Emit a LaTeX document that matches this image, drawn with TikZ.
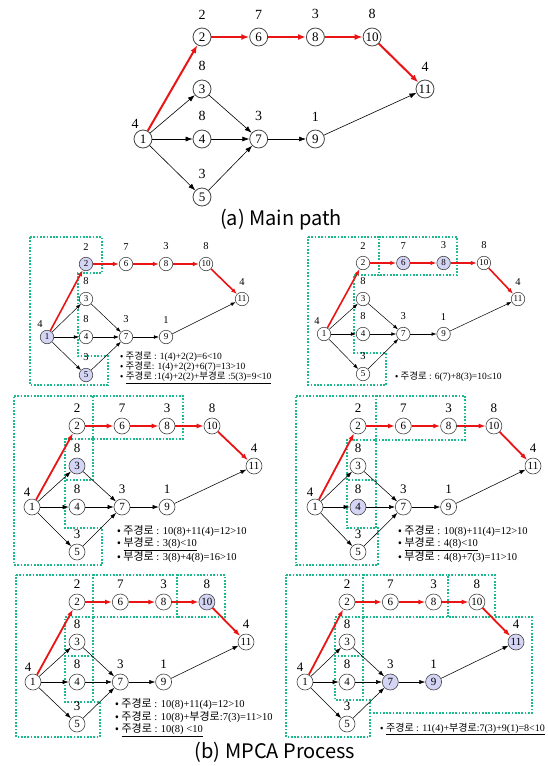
\documentclass[tikz,border=0pt]{standalone}
\usepackage{fontspec}
\setmainfont{Liberation Serif}
\newfontfamily\kr{Noto Sans CJK KR}
\usetikzlibrary{arrows.meta}
\definecolor{redp}{RGB}{235,20,20}
\definecolor{lav}{RGB}{212,212,245}
\definecolor{grn}{RGB}{30,185,140}
\definecolor{ndc}{RGB}{70,70,70}
\newcommand\kra{\kr\fontsize{9.5}{10}\selectfont}
\newcommand\krb{\kr\fontsize{11}{11}\selectfont}
\newcommand\krc{\kr\fontsize{10}{10}\selectfont}
\tikzset{
 s1/.style={}, s2/.style={}, s3/.style={}, s4/.style={}, s5/.style={}, s6/.style={},
 s7/.style={}, s8/.style={}, s9/.style={}, s10/.style={}, s11/.style={},
 hl/.style={fill=lav},
 grp/.style={draw=grn, line width=1.7pt, dash pattern=on 1.7pt off 1.6pt},
 tx/.style={anchor=west, inner sep=0pt},
 szL/.style={
   nd/.style={circle, draw=ndc, line width=0.8pt, fill=white, inner sep=0pt, minimum size=18pt,
     font=\fontsize{13}{13}\selectfont},
   wt/.style={inner sep=0pt, yshift=8.4pt, font=\fontsize{14}{14}\selectfont},
   wa/.style={inner sep=0pt, xshift=-8pt, yshift=1.4pt, font=\fontsize{14}{14}\selectfont},
   ar/.style={-{Latex[length=7pt,width=5pt]}, line width=0.6pt},
   rd/.style={-{Latex[length=8pt,width=6pt]}, line width=2pt, draw=redp}},
 szS/.style={
   nd/.style={circle, draw=ndc, line width=0.6pt, fill=white, inner sep=0pt, minimum size=13.5pt,
     font=\fontsize{9}{9}\selectfont},
   wt/.style={inner sep=0pt, yshift=6.7pt, font=\fontsize{10.5}{10.5}\selectfont},
   wa/.style={inner sep=0pt, xshift=-7pt, yshift=2.7pt, font=\fontsize{10.5}{10.5}\selectfont},
   ar/.style={-{Latex[length=5pt,width=3.6pt]}, line width=0.5pt},
   rd/.style={-{Latex[length=6pt,width=4.5pt]}, line width=1.6pt, draw=redp}},
 szM/.style={
   nd/.style={circle, draw=ndc, line width=0.6pt, fill=white, inner sep=0pt, minimum size=16pt,
     font=\fontsize{11}{11}\selectfont},
   wt/.style={inner sep=0pt, yshift=4.7pt, font=\fontsize{13}{13}\selectfont},
   wa/.style={inner sep=0pt, xshift=-5pt, yshift=1.7pt, font=\fontsize{13}{13}\selectfont},
   ar/.style={-{Latex[length=6pt,width=4.2pt]}, line width=0.55pt},
   rd/.style={-{Latex[length=7pt,width=5pt]}, line width=1.8pt, draw=redp}}
}
% #1 prefix, #2 x1, #3 x col2, #4 column step, #5 x11, #6 y top row, #7 y row of 3/11, #8 y row of 1/4, #9 y of 5
\newcommand\mpnet[9]{%
 \node[nd,s1,label={[wa]above:4}] (#1-1) at (#2,#8) {1};
 \node[nd,s2,label={[wt]above:2}] (#1-2) at (#3,#6) {2};
 \node[nd,s3,label={[wt]above:8}] (#1-3) at (#3,#7) {3};
 \node[nd,s4,label={[wt]above:8}] (#1-4) at (#3,#8) {4};
 \node[nd,s5,label={[wt]above:3}] (#1-5) at (#3,#9) {5};
 \node[nd,s6,label={[wt]above:7}] (#1-6) at ({#3+#4},#6) {6};
 \node[nd,s7,label={[wt]above:3}] (#1-7) at ({#3+#4},#8) {7};
 \node[nd,s8,label={[wt]above:3}] (#1-8) at ({#3+2*#4},#6) {8};
 \node[nd,s9,label={[wt]above:1}] (#1-9) at ({#3+2*#4},#8) {9};
 \node[nd,s10,label={[wt]above:8}] (#1-10) at ({#3+3*#4},#6) {10};
 \node[nd,s11,label={[wt]above:4}] (#1-11) at (#5,#7) {11};
 \draw[rd] (#1-1) -- (#1-2);
 \draw[rd] (#1-2) -- (#1-6);
 \draw[rd] (#1-6) -- (#1-8);
 \draw[rd] (#1-8) -- (#1-10);
 \draw[rd] (#1-10) -- (#1-11);
 \draw[ar] (#1-1) -- (#1-3);
 \draw[ar] (#1-1) -- (#1-4);
 \draw[ar] (#1-1) -- (#1-5);
 \draw[ar] (#1-3) -- (#1-7);
 \draw[ar] (#1-4) -- (#1-7);
 \draw[ar] (#1-5) -- (#1-7);
 \draw[ar] (#1-7) -- (#1-9);
 \draw[ar] (#1-9) -- (#1-11);
}
\begin{document}
\begin{tikzpicture}[x=1pt,y=-1pt]
\useasboundingbox[fill=white] (0,0) rectangle (547,766);

% ---------- (a) main path ----------
\begin{scope}[szL]
 \mpnet{m}{143}{202}{56.7}{425}{37}{89}{139}{197}
\end{scope}
\node (capa) at (281,220) {\kr\fontsize{20}{20}\selectfont (a) Main path};

% ---------- panel 1 ----------
\draw[grp] (30,237) -- (102,237) -- (102,273) -- (78,273) -- (78,356) -- (108,356) -- (108,385) -- (30,385) -- cycle;
\begin{scope}[szS, s1/.style={hl}, s2/.style={hl}, s5/.style={hl}]
 \mpnet{a}{47}{86}{40}{242}{264}{299}{337}{375}
\end{scope}
\begin{scope}[font=\fontsize{9.5}{9.5}\selectfont]
 \node[tx] (ta1) at (120,357) {{\kra • 주경로} : 1(4)+2(2)=6<10};
 \node[tx] (ta2) at (120,367) {{\kra • 주경로}: 1(4)+2(2)+6(7)=13>10};
 \node[tx] (ta3) at (120,378) {{\kra •} \underline{{\kra 주경로} :1(4)+2(2)+{\kra 부경로} :5(3)=9<10}};
\end{scope}

% ---------- panel 2 ----------
\draw[grp] (308,237) -- (379,237) -- (379,275) -- (354,275) -- (354,353) -- (386,353) -- (386,385) -- (308,385) -- cycle;
\draw[grp] (379,237) -- (457,237) -- (457,275) -- (379,275);
\begin{scope}[szS, s6/.style={hl}, s8/.style={hl}]
 \mpnet{b}{324}{363}{40.3}{518}{263}{299}{334}{374}
\end{scope}
\node[tx, font=\fontsize{9.5}{9.5}\selectfont] (tb1) at (395,377) {{\kra • 주경로} : 6(7)+8(3)=10≤10};

% ---------- panel 3 ----------
\draw[grp] (14,396) -- (93,396) -- (93,439) -- (65,439) -- (65,528) -- (102,528) -- (102,565) -- (14,565) -- cycle;
\draw[grp] (93,396) -- (183,396) -- (183,439) -- (93,439);
\draw[grp] (93,439) -- (93,480) -- (65,480);
\begin{scope}[szM, s3/.style={hl}]
 \mpnet{c}{32}{77}{45}{254}{426}{466}{507}{552}
\end{scope}
\begin{scope}[font=\fontsize{10.5}{10.5}\selectfont]
 \node[tx] (tc1) at (117,531) {{\krb • 주경로} : 10(8)+11(4)=12>10};
 \node[tx] (tc2) at (117,544) {{\krb •} \underline{{\krb 부경로} : 3(8)<10}};
 \node[tx] (tc3) at (117,557) {{\krb • 부경로} : 3(8)+4(8)=16>10};
\end{scope}

% ---------- panel 4 ----------
\draw[grp] (296,396) -- (376,396) -- (376,440) -- (347,440) -- (347,528) -- (378,528) -- (378,565) -- (296,565) -- cycle;
\draw[grp] (376,396) -- (465,396) -- (465,440) -- (376,440);
\draw[grp] (376,440) -- (376,480) -- (347,480);
\draw[grp] (376,480) -- (376,528);
\begin{scope}[szM, s4/.style={hl}]
 \mpnet{d}{315}{358}{45.3}{533}{426}{466}{507}{552}
\end{scope}
\begin{scope}[font=\fontsize{10.5}{10.5}\selectfont]
 \node[tx] (td1) at (398,531) {{\krb • 주경로} : 10(8)+11(4)=12>10};
 \node[tx] (td2) at (398,544) {{\krb •} \underline{{\krb 부경로} : 4(8)<10}};
 \node[tx] (td3) at (398,557) {{\krb • 부경로} : 4(8)+7(3)=11>10};
\end{scope}

% ---------- panel 5 ----------
\draw[grp] (16,575) -- (93,575) -- (93,617) -- (65,617) -- (65,702) -- (100,702) -- (100,737) -- (16,737) -- cycle;
\draw[grp] (93,575) -- (177,575) -- (177,617) -- (93,617);
\draw[grp] (177,575) -- (225,575) -- (225,617) -- (177,617);
\draw[grp] (93,617) -- (93,656) -- (65,656);
\draw[grp] (93,656) -- (93,702);
\begin{scope}[szM, s10/.style={hl}]
 \mpnet{e}{33}{77}{43.3}{246}{602}{642}{682}{724}
\end{scope}
\begin{scope}[font=\fontsize{10.5}{10.5}\selectfont]
 \node[tx] (te1) at (115,704) {{\krb • 주경로} : 10(8)+11(4)=12>10};
 \node[tx] (te2) at (115,717) {{\krb • 주경로} : 10(8)+{\krb 부경로}:7(3)=11>10};
 \node[tx] (te3) at (115,730) {{\krb •} \underline{{\krb 주경로} : 10(8) <10}};
\end{scope}

% ---------- panel 6 ----------
\draw[grp] (286,575) -- (363,575) -- (363,617) -- (335,617) -- (335,700) -- (370,700) -- (370,737) -- (286,737) -- cycle;
\draw[grp] (363,575) -- (448,575) -- (448,617);
\draw[grp] (448,575) -- (495,575) -- (495,617);
\draw[grp] (363,617) -- (363,656) -- (335,656);
\draw[grp] (363,656) -- (363,700);
\draw[grp] (363,617) -- (532,617) -- (532,713) -- (370,713);
\begin{scope}[szM, s7/.style={hl}, s9/.style={hl}, s11/.style={hl}]
 \mpnet{f}{305}{347}{43.3}{516}{602}{642}{682}{724}
\end{scope}
\node[tx, font=\fontsize{10}{10}\selectfont] (tf1) at (380,729) {{\krc •} \underline{{\krc 주경로} : 11(4)+{\krc 부경로}:7(3)+9(1)=8<10}};

\node (capb) at (275,752) {\kr\fontsize{20}{20}\selectfont (b) MPCA Process};
\end{tikzpicture}
\end{document}
